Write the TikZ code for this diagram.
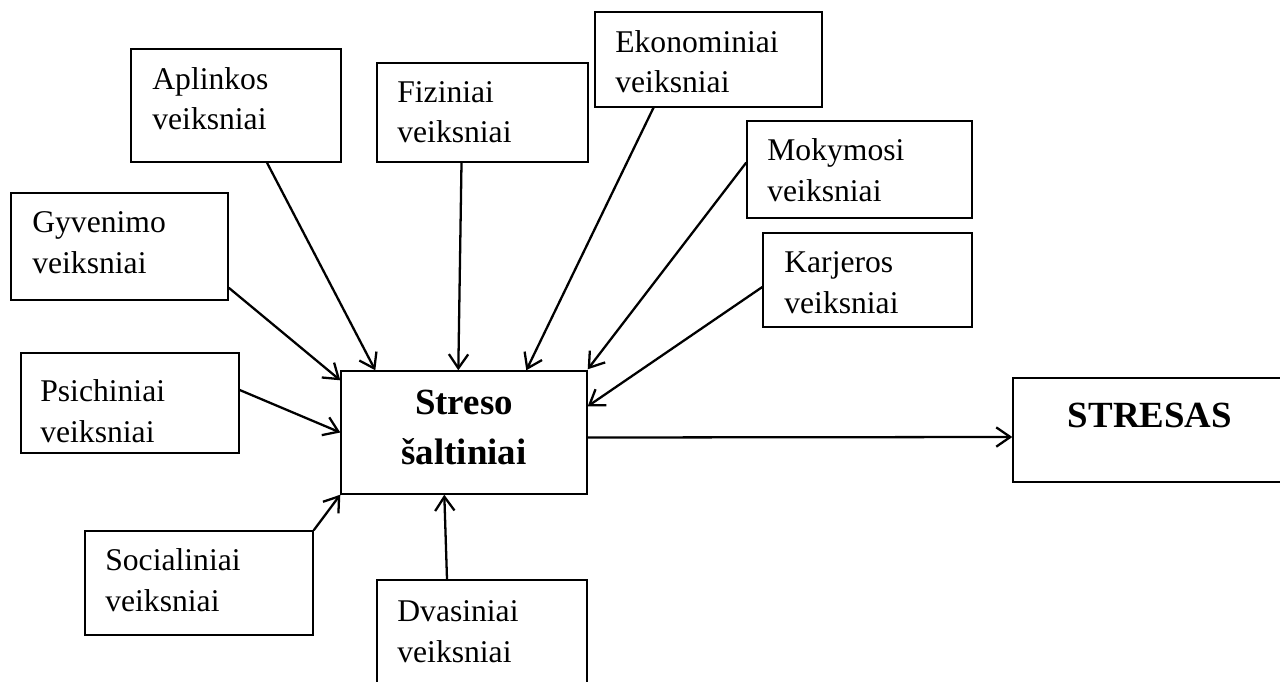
\documentclass[tikz,border=0pt]{standalone}
\usepackage{fontspec}
\setmainfont{Liberation Serif}
\usetikzlibrary{fit,arrows.meta}

\tikzset{
  box/.style={draw=black,line width=0.8pt,inner sep=0pt},
  txt/.style={font=\fontsize{18}{23.3}\selectfont,align=left,inner sep=0pt,anchor=base west},
  bigtxt/.style={font=\fontsize{21}{27.9}\selectfont\bfseries,align=center,inner sep=0pt,anchor=base},
  feed/.style={line width=1.3pt,->},
}

\begin{document}
\begin{tikzpicture}[x=0.02cm,y=-0.02cm,>={Straight Barb[length=8pt,width=11pt]}]
     \useasboundingbox (0,0) rectangle (1280,682);
     \clip (0,0) rectangle (1280,682);

     \newcommand\factorbox[5]{%{name}{nw}{se}{last line at}{text}
     \node[box,fit={#2 #3}] (#1) {};
     \node[txt] (#1-t) at #4 {#5};
     }

     % factors
     \factorbox{apl}{(131,49)}{(341,162)}{(152,130)}{Aplinkos\\veiksniai};
     \factorbox{fiz}{(377,63)}{(588,162)}{(397,143)}{Fiziniai\\veiksniai};
     \factorbox{eko}{(595,12)}{(822,107)}{(615,93)}{Ekonominiai\\veiksniai};
     \factorbox{mok}{(747,121)}{(972,218)}{(767,201)}{Mokymosi\\veiksniai};
     \factorbox{kar}{(763,233)}{(972,327)}{(784,313)}{Karjeros\\veiksniai};
     \factorbox{gyv}{(11,193)}{(228,300)}{(32,273)}{Gyvenimo\\veiksniai};
     \factorbox{psi}{(21,353)}{(239,453)}{(40,442)}{Psichiniai\\veiksniai};
     \factorbox{soc}{(85,531)}{(313,635)}{(105,611)}{Socialiniai\\veiksniai};
     \factorbox{dva}{(377,580)}{(587,720)}{(397,662)}{Dvasiniai\\veiksniai};

     % center and result
     \node[box,fit={(341,371) (587,494)}] (src) {};
     \node[bigtxt] (src-t) at (464,464) {Streso\\šaltiniai};
     \node[box,fit={(1013,378) (1287,482)}] (stres) {};
     \node[bigtxt] (stres-t) at (1150,427) {STRESAS};

     \draw[feed] ([shift={(31,0)}]apl.south) -- ([shift={(35,0)}]src.north west);
     \draw[feed] ([shift={(-21,0)}]fiz.south) -- ([shift={(118,0)}]src.north west);
     \draw[feed] ([shift={(-55,0)}]eko.south) -- ([shift={(186,0)}]src.north west);
     \draw[feed] ([shift={(0,-7)}]mok.west) -- ([shift={(0,-1)}]src.north east);
     \draw[feed] ([shift={(0,7)}]kar.west) -- ([shift={(0,36)}]src.north east);
     \draw[feed] ([shift={(0,-13)}]gyv.south east) -- ([shift={(0,10)}]src.north west);
     \draw[feed] ([shift={(0,-13)}]psi.east) -- (src.west);
     \draw[feed] (soc.north east) -- (src.south west);
     \draw[feed] ([shift={(-35,0)}]dva.north) -- ([shift={(104,0)}]src.south west);
     \draw[feed] ([shift={(0,5)}]src.east) -- ([shift={(0,7)}]stres.west);
\end{tikzpicture}
\end{document}
